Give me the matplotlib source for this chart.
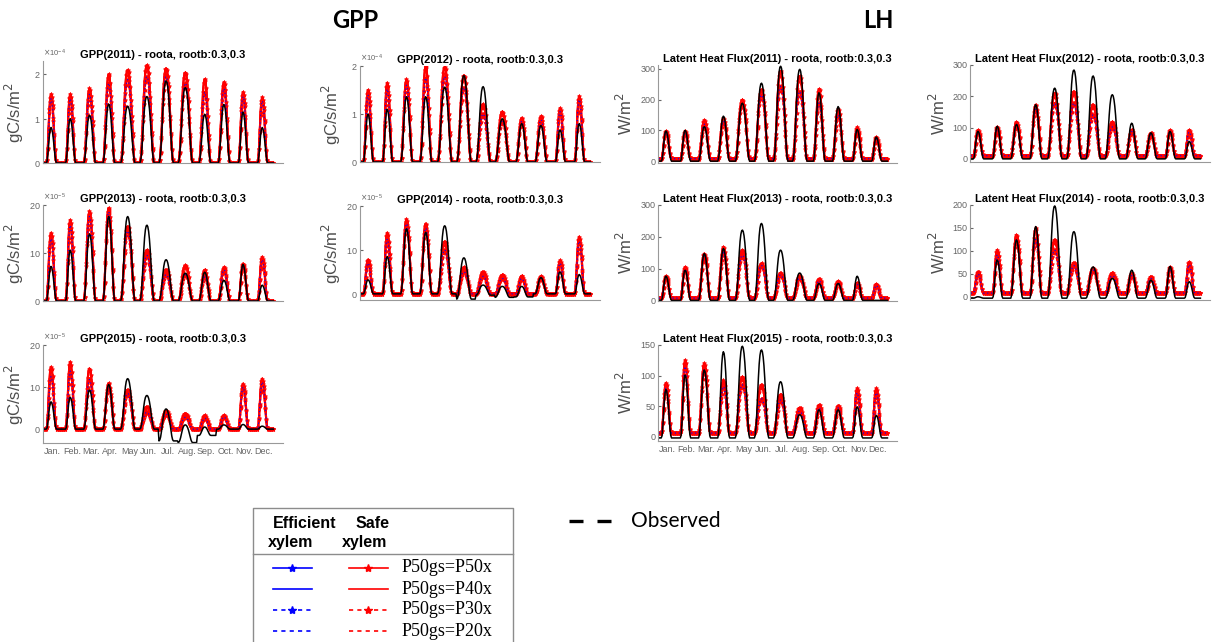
import numpy as np
import matplotlib
matplotlib.use('Agg')
import matplotlib.pyplot as plt
from matplotlib.ticker import ScalarFormatter

W, H = 1220, 642

months = ['Jan.', 'Feb.', 'Mar.', 'Apr.', 'May', 'Jun.', 'Jul.', 'Aug.', 'Sep.', 'Oct.', 'Nov.', 'Dec.']

# mean diurnal cycle (24 h), normalised, for short / medium / long days
shape_winter = [0, 0, 0, 0, 0.04, 0.22, 0.5, 0.78, 0.95, 1.0, 0.96, 0.85, 0.66, 0.42, 0.2, 0.05, 0, 0, 0, 0, 0, 0, 0, 0]
shape_mid = [0, 0, 0, 0.05, 0.2, 0.42, 0.66, 0.85, 0.96, 1.0, 0.98, 0.9, 0.76, 0.56, 0.34, 0.15, 0.03, 0, 0, 0, 0, 0, 0, 0]
shape_summer = [0, 0.03, 0.12, 0.28, 0.48, 0.68, 0.84, 0.94, 0.99, 1.0, 0.98, 0.92, 0.82, 0.68, 0.5, 0.32, 0.15, 0.04, 0, 0, 0, 0, 0, 0]
month_season = [0, 0, 1, 1, 2, 2, 2, 2, 1, 1, 0, 0]

# GPP monthly peaks (2011/2012 in 1e-4, 2013-2015 in 1e-5 gC/s/m2)
gpp11_hi = [1.55, 1.55, 1.68, 2.0, 2.1, 2.2, 2.13, 2.04, 1.89, 1.82, 1.6, 1.48]
gpp11_lo = [1.45, 1.45, 1.55, 1.8, 1.88, 1.95, 1.95, 1.8, 1.6, 1.68, 1.5, 1.4]
gpp11_obs = [0.8, 1.0, 1.08, 1.33, 1.28, 1.5, 1.85, 1.7, 1.1, 1.32, 1.15, 0.8]

gpp12_hi = [1.5, 1.65, 1.72, 2.0, 1.98, 1.8, 1.2, 1.05, 0.92, 0.95, 1.12, 1.37]
gpp12_lo = [1.4, 1.52, 1.6, 1.75, 1.78, 1.55, 1.0, 0.85, 0.85, 0.88, 1.05, 1.3]
gpp12_obs = [1.0, 1.1, 1.36, 1.36, 1.56, 1.8, 1.57, 0.9, 0.8, 0.76, 0.67, 0.8]

gpp13_hi = [14.2, 16.9, 18.7, 19.4, 15.5, 10.6, 6.5, 7.4, 6.5, 7.0, 7.8, 9.2]
gpp13_lo = [13.0, 15.8, 17.6, 18.6, 14.6, 9.5, 5.5, 5.5, 5.0, 6.5, 7.4, 8.6]
gpp13_obs = [7.2, 10.6, 14.0, 17.6, 17.6, 15.8, 8.6, 5.8, 6.0, 4.3, 7.6, 3.3]

gpp14_hi = [7.8, 13.9, 17.0, 16.0, 11.9, 6.0, 5.0, 4.3, 4.1, 4.0, 7.6, 13.0]
gpp14_lo = [7.0, 12.5, 16.0, 15.0, 10.0, 5.0, 4.0, 3.5, 3.5, 3.6, 7.0, 12.0]
gpp14_obs = [3.2, 8.5, 14.8, 14.0, 15.5, 8.2, 2.0, 1.7, 1.7, 3.7, 5.0, 4.4]
gpp14_obs_night = [0, 0, 0, 0, 0, -1.2, -0.3, -0.8, -0.7, 0, 0, 0]

gpp15_hi = [14.8, 16.0, 14.4, 10.9, 9.3, 5.3, 4.3, 3.7, 3.3, 3.3, 10.8, 12.0]
gpp15_lo = [12.5, 13.8, 11.8, 10.0, 8.5, 4.0, 3.5, 2.8, 2.6, 2.9, 10.0, 11.2]
gpp15_obs = [6.5, 7.6, 9.3, 10.6, 12.0, 8.0, 4.8, 1.0, 0.5, 1.0, 1.1, 0.7]
gpp15_obs_night = [0, 0, 0, 0, 0, 0, -2.8, -3.2, -1.5, 0, 0, 0]

# Latent heat monthly peaks (W/m2)
lh11_hi = [98, 97, 133, 140, 199, 232, 292, 276, 234, 168, 110, 78]
lh11_lo = [92, 90, 120, 130, 185, 215, 243, 226, 188, 150, 102, 72]
lh11_obs = [98, 100, 112, 146, 188, 253, 308, 298, 222, 177, 103, 78]

lh12_hi = [92, 102, 118, 173, 210, 215, 173, 118, 93, 83, 92, 92]
lh12_lo = [86, 95, 110, 160, 178, 178, 141, 102, 88, 78, 86, 86]
lh12_obs = [88, 104, 110, 173, 226, 284, 265, 205, 114, 83, 88, 56]

lh13_hi = [77, 105, 147, 168, 158, 116, 86, 76, 68, 60, 55, 51]
lh13_lo = [72, 98, 140, 150, 142, 110, 80, 70, 62, 55, 50, 47]
lh13_obs = [76, 95, 147, 163, 221, 242, 158, 86, 53, 53, 76, 0]

lh14_hi = [55, 102, 135, 149, 124, 74, 62, 52, 51, 44, 65, 76]
lh14_lo = [50, 92, 125, 125, 102, 68, 58, 46, 46, 40, 60, 70]
lh14_obs = [0, 80, 124, 153, 198, 142, 65, 40, 58, 36, 66, 33]

lh15_hi = [88, 125, 120, 92, 98, 85, 69, 47, 52, 51, 79, 79]
lh15_lo = [80, 115, 110, 82, 85, 62, 60, 42, 47, 47, 72, 72]
lh15_obs = [77, 101, 109, 139, 148, 142, 90, 36, 44, 44, 49, 35]

# night-time model LH baseline per year 2011..2015 (W/m2)
lh_model_night = [8, 10, 7, 8, 6]

legend_labels = ['P50gs=P50x', 'P50gs=P40x', 'P50gs=P30x', 'P50gs=P20x']

day_shapes = [shape_winter, shape_mid, shape_summer]


def build(peaks, night=0.0):
    out = []
    for m, peak in enumerate(peaks):
        shape = np.array(day_shapes[month_season[m]])
        n = night[m] if isinstance(night, list) else night
        out.append(n + (peak - n) * shape)
    return np.concatenate(out)


# (label, which peaks, linestyle, marker)
styles = [
    (legend_labels[0], 'hi', '-', '*'),
    (legend_labels[1], 'hi', '-', None),
    (legend_labels[2], 'lo', '--', '*'),
    (legend_labels[3], 'lo', (0, (1, 1.5)), None),
]

plt.rcParams['font.family'] = ['Liberation Sans', 'DejaVu Sans']
fig = plt.figure(figsize=(W / 100, H / 100), dpi=100)


def px_axes(x0, x1, top, bottom):
    return fig.add_axes([x0 / W, 1 - bottom / H, (x1 - x0) / W, (bottom - top) / H])


def draw_panel(box, title, hi, lo, obs, ylim, yticks, ylabel, scale=1.0, exp=None,
               model_night=0.0, obs_night=0.0, xlabels=False, label_x=-0.07):
    ax = px_axes(*box)
    x = np.arange(1, 24 * 12 + 1)
    series = {'hi': build(hi, model_night) * scale, 'lo': build(lo, model_night) * scale}
    # efficient xylem solid lines underneath
    for lab, key, ls, mk in styles[:2]:
        ax.plot(x, series[key], color='blue', ls=ls, lw=0.8)
    for lab, key, ls, mk in styles:
        ax.plot(x, series[key], color='red', ls=ls, lw=1.5, marker=mk, ms=3,
                markeredgewidth=0.6)
    for lab, key, ls, mk in styles[2:]:
        ax.plot(x, series[key], color='blue', ls=(0, (1, 3)), lw=0.7, alpha=0.8)
    ax.plot(x, build(obs, obs_night) * scale, color='black', lw=1.1)

    ax.set_xlim(0, 300)
    ax.set_ylim(ylim[0] * scale, ylim[1] * scale)
    ax.set_yticks([t * scale for t in yticks])
    if exp is not None:
        fmt = ScalarFormatter(useMathText=True)
        fmt.set_powerlimits((exp, exp))
        ax.yaxis.set_major_formatter(fmt)
        ax.yaxis.get_offset_text().set_fontsize(5.5)
        ax.yaxis.get_offset_text().set_color('0.45')
    ax.set_xticks(12 + 24 * np.arange(12))
    if xlabels:
        ax.set_xticklabels(months)
    else:
        ax.set_xticklabels([])
    ax.tick_params(axis='x', length=0, labelsize=6.5, colors='0.4', pad=3)
    ax.tick_params(axis='y', direction='in', length=2, labelsize=6.5, colors='0.4', pad=2)
    for s in ['top', 'right']:
        ax.spines[s].set_visible(False)
    for s in ['left', 'bottom']:
        ax.spines[s].set_color('0.6')
        ax.spines[s].set_linewidth(0.8)
    ax.set_title(title, fontsize=8, fontweight='bold', pad=2)
    ax.set_ylabel(ylabel, fontsize=12, color='0.3')
    ax.yaxis.set_label_coords(label_x, 0.5)
    return ax


col = [(43, 283), (360, 600), (658, 897), (970, 1210)]
sub = ' - roota, rootb:0.3,0.3'
gl = r'gC/s/m$^2$'
wl = r'W/m$^2$'

draw_panel((*col[0], 61, 163), 'GPP(2011)' + sub, gpp11_hi, gpp11_lo, gpp11_obs,
           (0, 2.3), [0, 1, 2], gl, scale=1e-4, exp=-4)
draw_panel((*col[1], 66, 162), 'GPP(2012)' + sub, gpp12_hi, gpp12_lo, gpp12_obs,
           (0, 2.0), [0, 1, 2], gl, scale=1e-4, exp=-4)
draw_panel((*col[0], 205, 301), 'GPP(2013)' + sub, gpp13_hi, gpp13_lo, gpp13_obs,
           (0, 20), [0, 10, 20], gl, scale=1e-5, exp=-5)
draw_panel((*col[1], 206, 300), 'GPP(2014)' + sub, gpp14_hi, gpp14_lo, gpp14_obs,
           (-1.4, 20), [0, 10, 20], gl, scale=1e-5, exp=-5, obs_night=gpp14_obs_night)
draw_panel((*col[0], 345, 443), 'GPP(2015)' + sub, gpp15_hi, gpp15_lo, gpp15_obs,
           (-3.3, 20), [0, 10, 20], gl, scale=1e-5, exp=-5, obs_night=gpp15_obs_night,
           xlabels=True)

draw_panel((*col[2], 65, 163), 'Latent Heat Flux(2011)' + sub, lh11_hi, lh11_lo, lh11_obs,
           (-6, 312), [0, 100, 200, 300], wl, model_night=lh_model_night[0], label_x=-0.095)
draw_panel((*col[3], 65, 162), 'Latent Heat Flux(2012)' + sub, lh12_hi, lh12_lo, lh12_obs,
           (-10, 300), [0, 100, 200, 300], wl, model_night=lh_model_night[1], label_x=-0.092)
draw_panel((*col[2], 205, 301), 'Latent Heat Flux(2013)' + sub, lh13_hi, lh13_lo, lh13_obs,
           (-2, 300), [0, 100, 200, 300], wl, model_night=lh_model_night[2], label_x=-0.095)
draw_panel((*col[3], 205, 300), 'Latent Heat Flux(2014)' + sub, lh14_hi, lh14_lo, lh14_obs,
           (-7, 200), [0, 50, 100, 150, 200], wl, model_night=lh_model_night[3],
           obs_night=-3, label_x=-0.092)
draw_panel((*col[2], 345, 441), 'Latent Heat Flux(2015)' + sub, lh15_hi, lh15_lo, lh15_obs,
           (-7, 150), [0, 50, 100, 150], wl, model_night=lh_model_night[4],
           obs_night=-2, xlabels=True, label_x=-0.095)

# overlay in pixel coordinates for headings and the hand-made legend
lax = fig.add_axes([0, 0, 1, 1])
lax.set_xlim(0, W)
lax.set_ylim(H, 0)
lax.axis('off')

lax.text(355, 20, 'GPP', fontsize=17, fontweight='bold', family=['Lato', 'DejaVu Sans'],
         ha='center', va='center')
lax.text(878, 20, 'LH', fontsize=17, fontweight='bold', family=['Lato', 'DejaVu Sans'],
         ha='center', va='center')

lax.plot([253, 253, 513, 513], [650, 508, 508, 650], color='0.55', lw=1, clip_on=False)
lax.plot([253, 513], [554, 554], color='0.55', lw=1)
hdr = dict(fontsize=11.5, fontweight='bold', ha='center', va='center')
lax.text(305, 523, 'Efficient', **hdr)
lax.text(291, 543, 'xylem', **hdr)
lax.text(373, 523, 'Safe', **hdr)
lax.text(365, 543, 'xylem', **hdr)

rows = [568, 589, 610, 631]
for y, (lab, key, ls, mk) in zip(rows, styles):
    lsl = (0, (2.5, 2.5)) if ls != '-' else '-'
    lax.plot([273, 312], [y, y], color='blue', ls=lsl, lw=1.2)
    lax.plot([349, 388], [y, y], color='red', ls=lsl, lw=1.2)
    if mk:
        lax.plot([292], [y], color='blue', marker='*', ms=6, ls='none')
        lax.plot([368], [y], color='red', marker='*', ms=6, ls='none')
    lax.text(402, y, lab, fontsize=13, family=['Liberation Serif', 'DejaVu Serif'],
             ha='left', va='center')

lax.plot([569, 583], [521, 521], color='black', lw=2.4, solid_capstyle='butt')
lax.plot([597, 611], [521, 521], color='black', lw=2.4, solid_capstyle='butt')
lax.text(631, 521, 'Observed', fontsize=15, family=['Lato', 'DejaVu Sans'],
         ha='left', va='center')

fig.savefig('out.png', dpi=100)
